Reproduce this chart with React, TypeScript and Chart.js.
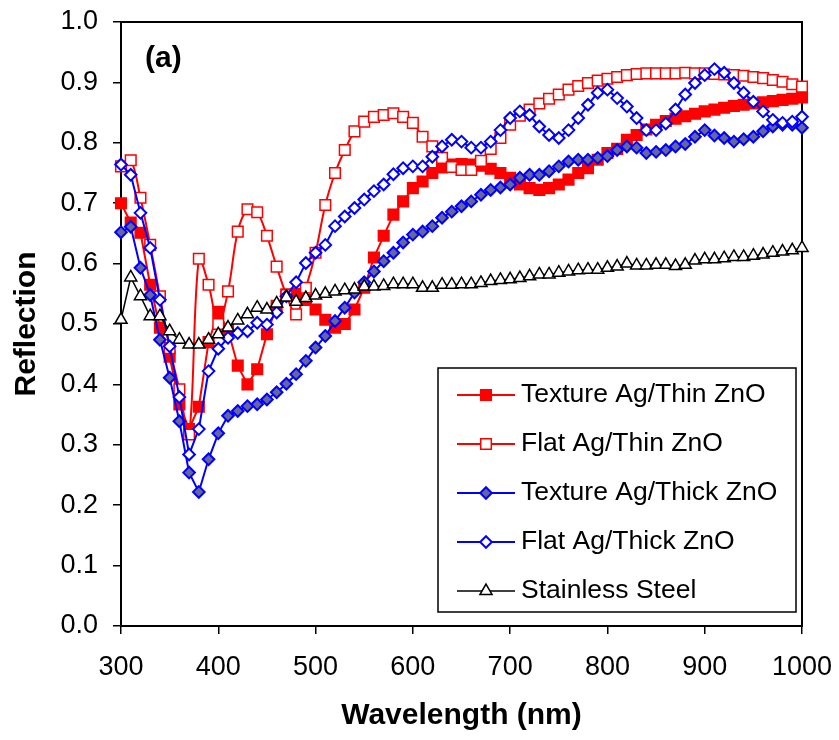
import React, { useEffect, useRef } from 'react';
import { Chart, registerables } from 'chart.js';

Chart.register(...registerables);

const FONT = '"Liberation Sans", Arial, Helvetica, sans-serif';

const wavelengths = [
  300, 310, 320, 330, 340, 350, 360, 370, 380, 390,
  400, 410, 420, 430, 440, 450, 460, 470, 480, 490,
  500, 510, 520, 530, 540, 550, 560, 570, 580, 590,
  600, 610, 620, 630, 640, 650, 660, 670, 680, 690,
  700, 710, 720, 730, 740, 750, 760, 770, 780, 790,
  800, 810, 820, 830, 840, 850, 860, 870, 880, 890,
  900, 910, 920, 930, 940, 950, 960, 970, 980, 990,
  1000,
];

const textureThin = [
  0.700, 0.668, 0.651, 0.565, 0.494, 0.446, 0.367, 0.326, 0.363, 0.470,
  0.520, 0.490, 0.431, 0.400, 0.425, 0.483, 0.530, 0.549, 0.550, 0.540,
  0.524, 0.507, 0.494, 0.500, 0.524, 0.560, 0.610, 0.646, 0.681, 0.703,
  0.725, 0.736, 0.750, 0.759, 0.764, 0.765, 0.764, 0.762, 0.757, 0.750,
  0.742, 0.731, 0.725, 0.722, 0.725, 0.731, 0.739, 0.750, 0.758, 0.772,
  0.783, 0.790, 0.805, 0.813, 0.822, 0.830, 0.836, 0.840, 0.844, 0.848,
  0.852, 0.855, 0.858, 0.861, 0.863, 0.865, 0.867, 0.869, 0.871, 0.873,
  0.875,
];

const flatThin = [
  0.761, 0.771, 0.709, 0.631, 0.546, 0.460, 0.392, 0.317, 0.608, 0.565,
  0.500, 0.554, 0.653, 0.690, 0.685, 0.646, 0.595, 0.548, 0.516, 0.560,
  0.618, 0.697, 0.750, 0.788, 0.819, 0.835, 0.843, 0.846, 0.849, 0.843,
  0.833, 0.810, 0.794, 0.775, 0.760, 0.755, 0.755, 0.770, 0.790, 0.808,
  0.830, 0.845, 0.855, 0.865, 0.873, 0.880, 0.888, 0.894, 0.899, 0.903,
  0.906, 0.909, 0.912, 0.914, 0.915, 0.915, 0.915, 0.915, 0.916, 0.915,
  0.915, 0.914, 0.913, 0.912, 0.911, 0.909, 0.907, 0.904, 0.901, 0.897,
  0.893,
];

const textureThick = [
  0.652, 0.661, 0.593, 0.548, 0.474, 0.411, 0.339, 0.254, 0.222, 0.276,
  0.319, 0.348, 0.356, 0.364, 0.367, 0.375, 0.387, 0.401, 0.417, 0.439,
  0.461, 0.480, 0.505, 0.527, 0.552, 0.569, 0.587, 0.604, 0.618, 0.635,
  0.648, 0.653, 0.662, 0.676, 0.686, 0.695, 0.703, 0.714, 0.722, 0.726,
  0.731, 0.742, 0.747, 0.747, 0.753, 0.761, 0.769, 0.772, 0.772, 0.775,
  0.778, 0.788, 0.794, 0.792, 0.783, 0.785, 0.788, 0.794, 0.798, 0.810,
  0.821, 0.812, 0.808, 0.802, 0.806, 0.810, 0.819, 0.827, 0.830, 0.830,
  0.825,
];

const flatThick = [
  0.764, 0.747, 0.684, 0.626, 0.540, 0.463, 0.379, 0.284, 0.326, 0.422,
  0.459, 0.477, 0.485, 0.488, 0.502, 0.499, 0.519, 0.546, 0.569, 0.601,
  0.618, 0.631, 0.662, 0.678, 0.692, 0.706, 0.720, 0.731, 0.748, 0.758,
  0.761, 0.761, 0.777, 0.794, 0.805, 0.802, 0.792, 0.792, 0.802, 0.821,
  0.841, 0.852, 0.846, 0.827, 0.813, 0.808, 0.821, 0.841, 0.863, 0.883,
  0.888, 0.874, 0.860, 0.841, 0.821, 0.821, 0.832, 0.855, 0.880, 0.899,
  0.912, 0.922, 0.916, 0.899, 0.883, 0.868, 0.852, 0.838, 0.833, 0.835,
  0.843,
];

const stainless = [
  0.507, 0.577, 0.546, 0.513, 0.513, 0.488, 0.474, 0.466, 0.466, 0.474,
  0.483, 0.494, 0.506, 0.516, 0.527, 0.524, 0.534, 0.544, 0.537, 0.543,
  0.547, 0.550, 0.554, 0.556, 0.557, 0.562, 0.562, 0.563, 0.566, 0.566,
  0.566, 0.560, 0.560, 0.565, 0.565, 0.566, 0.566, 0.568, 0.571, 0.573,
  0.574, 0.576, 0.579, 0.582, 0.582, 0.585, 0.587, 0.589, 0.590, 0.590,
  0.593, 0.595, 0.600, 0.597, 0.597, 0.598, 0.598, 0.596, 0.598, 0.605,
  0.607, 0.607, 0.609, 0.611, 0.611, 0.613, 0.615, 0.618, 0.620, 0.622,
  0.626,
];

const seriesLabels = [
  'Texture Ag/Thin ZnO',
  'Flat Ag/Thin ZnO',
  'Texture Ag/Thick ZnO',
  'Flat Ag/Thick ZnO',
  'Stainless Steel',
];

const xTitle = 'Wavelength (nm)';
const yTitle = 'Reflection';
const panelLabel = '(a)';

type Style = {
  color: string;
  fill: string;
  shape: 'rect' | 'rectRot' | 'triangle';
  radius: number;
  lineWidth: number;
  markerBorder: number;
  tension: number;
};

const styles: Style[] = [
  { color: '#ff0000', fill: '#ff0000', shape: 'rect', radius: 7.5, lineWidth: 2, markerBorder: 1.5, tension: 0 },
  { color: '#ff0000', fill: '#ffffff', shape: 'rect', radius: 7.5, lineWidth: 2, markerBorder: 1.5, tension: 0.35 },
  { color: '#0000ff', fill: '#666699', shape: 'rectRot', radius: 5.8, lineWidth: 2, markerBorder: 2, tension: 0 },
  { color: '#0000ff', fill: '#ffffff', shape: 'rectRot', radius: 5.8, lineWidth: 2, markerBorder: 2, tension: 0 },
  { color: '#000000', fill: '#ffffff', shape: 'triangle', radius: 7, lineWidth: 1.5, markerBorder: 1.5, tension: 0 },
];

function drawMarker(ctx: CanvasRenderingContext2D, st: Style, x: number, y: number) {
  const r = st.radius;
  ctx.beginPath();
  if (st.shape === 'rect') {
    const s = r * Math.SQRT1_2;
    ctx.rect(x - s, y - s, 2 * s, 2 * s);
  } else if (st.shape === 'rectRot') {
    ctx.moveTo(x, y - r);
    ctx.lineTo(x + r, y);
    ctx.lineTo(x, y + r);
    ctx.lineTo(x - r, y);
    ctx.closePath();
  } else {
    let a = 0;
    ctx.moveTo(x + Math.sin(a) * r, y - Math.cos(a) * r);
    a += (2 * Math.PI) / 3;
    ctx.lineTo(x + Math.sin(a) * r, y - Math.cos(a) * r);
    a += (2 * Math.PI) / 3;
    ctx.lineTo(x + Math.sin(a) * r, y - Math.cos(a) * r);
    ctx.closePath();
  }
  ctx.fillStyle = st.fill;
  ctx.fill();
  ctx.lineWidth = st.markerBorder;
  ctx.strokeStyle = st.color;
  ctx.stroke();
}

const framePlugin = {
  id: 'plotFrame',
  beforeDatasetsDraw(chart: any) {
    const { ctx, chartArea: a } = chart;
    ctx.save();
    ctx.strokeStyle = '#000';
    ctx.lineWidth = 2;
    ctx.strokeRect(a.left, a.top, a.right - a.left, a.bottom - a.top);
    ctx.restore();
  },
  afterDraw(chart: any) {
    const { ctx, chartArea: a } = chart;
    ctx.save();
    // panel label
    ctx.fillStyle = '#000';
    ctx.font = `bold 30px ${FONT}`;
    ctx.textAlign = 'left';
    ctx.textBaseline = 'alphabetic';
    ctx.fillText(panelLabel, a.left + 24, a.top + 45);

    // legend box
    const boxL = a.right - 364;
    const boxT = a.bottom - 258;
    const boxW = 358;
    const boxH = 244;
    ctx.fillStyle = '#fff';
    ctx.fillRect(boxL, boxT, boxW, boxH);
    ctx.strokeStyle = '#000';
    ctx.lineWidth = 1.5;
    ctx.strokeRect(boxL, boxT, boxW, boxH);

    ctx.font = `26.5px ${FONT}`;
    seriesLabels.forEach((label, i) => {
      const st = styles[i];
      const cy = boxT + 27 + i * 49;
      const x0 = boxL + 19;
      const x1 = boxL + 77;
      ctx.beginPath();
      ctx.moveTo(x0, cy);
      ctx.lineTo(x1, cy);
      ctx.strokeStyle = st.color;
      ctx.lineWidth = st.lineWidth;
      ctx.stroke();
      drawMarker(ctx, st, (x0 + x1) / 2, cy);
      ctx.fillStyle = '#000';
      ctx.textAlign = 'left';
      ctx.textBaseline = 'alphabetic';
      ctx.fillText(label, boxL + 83, cy + 7);
    });
    ctx.restore();
  },
};

const allSeries = [textureThin, flatThin, textureThick, flatThick, stainless];

function zeroPadding(s: any) {
  s.paddingLeft = 0;
  s.paddingRight = 0;
  s.paddingTop = 0;
  s.paddingBottom = 0;
}

export default function App() {
  const canvasRef = useRef<HTMLCanvasElement | null>(null);

  useEffect(() => {
    const canvas = canvasRef.current;
    if (!canvas) return;
    const datasets = allSeries.map((values, i) => {
      const st = styles[i];
      return {
        label: seriesLabels[i],
        data: values.map((v, j) => ({ x: wavelengths[j], y: v })),
        borderColor: st.color,
        backgroundColor: st.fill,
        borderWidth: st.lineWidth,
        pointStyle: st.shape,
        pointRadius: st.radius,
        pointBorderWidth: st.markerBorder,
        pointBorderColor: st.color,
        pointBackgroundColor: st.fill,
        tension: st.tension,
        fill: false,
        clip: false as any,
        order: allSeries.length - i,
      };
    });

    const chart = new Chart(canvas, {
      type: 'line',
      data: { datasets },
      options: {
        animation: false,
        responsive: false,
        maintainAspectRatio: false,
        events: [],
        layout: { padding: { top: 22, right: 37, left: 0, bottom: 0 } },
        plugins: {
          legend: { display: false },
          tooltip: { enabled: false },
          title: { display: false },
        },
        scales: {
          x: {
            type: 'linear',
            min: 300,
            max: 1000,
            afterFit: (s: any) => { s.height = 114; zeroPadding(s); },
            ticks: {
              stepSize: 100,
              autoSkip: false,
              maxRotation: 0,
              padding: 17,
              color: '#000',
              font: { family: FONT, size: 27 },
              callback: (v: any) => String(v),
            },
            grid: {
              drawOnChartArea: false,
              drawTicks: true,
              tickLength: 8,
              color: '#000',
              lineWidth: 1.5,
            },
            border: { display: true, color: '#000', width: 2 },
            title: {
              display: true,
              text: xTitle,
              color: '#000',
              font: { family: FONT, size: 30, weight: 'bold' },
              padding: { top: 0, bottom: 6 },
            },
          },
          y: {
            type: 'linear',
            min: 0,
            max: 1,
            afterFit: (s: any) => { s.width = 121; zeroPadding(s); },
            ticks: {
              stepSize: 0.1,
              autoSkip: false,
              padding: 15,
              color: '#000',
              font: { family: FONT, size: 27 },
              callback: (v: any) => Number(v).toFixed(1),
            },
            grid: {
              drawOnChartArea: false,
              drawTicks: true,
              tickLength: 8,
              color: '#000',
              lineWidth: 1.5,
            },
            border: { display: true, color: '#000', width: 2 },
            title: {
              display: true,
              text: yTitle,
              color: '#000',
              font: { family: FONT, size: 30, weight: 'bold' },
              padding: { top: 9, bottom: 0 },
            },
          },
        },
      },
      plugins: [framePlugin],
    } as any);

    return () => chart.destroy();
  }, []);

  return (
    <div style={{ position: 'absolute', left: 0, top: 0, width: 839, height: 740, background: '#fff' }}>
      <canvas ref={canvasRef} width={839} height={740} style={{ display: 'block' }} />
    </div>
  );
}
